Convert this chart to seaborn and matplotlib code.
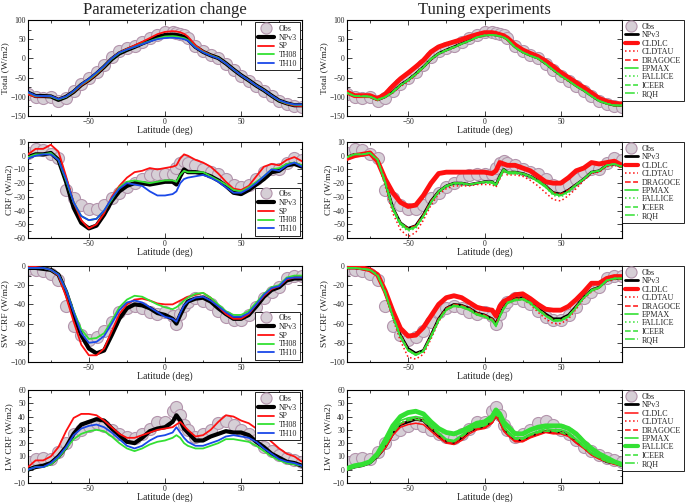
import matplotlib
matplotlib.use('Agg')
import matplotlib.pyplot as plt
from matplotlib.lines import Line2D
from matplotlib.ticker import MultipleLocator
import seaborn as sns

# ---------------- data ----------------
LAT = [-90, -85, -80, -75, -70, -65, -60, -55, -50,
       -45, -40, -35, -30, -25, -20, -15, -10, -5,
       0, 5, 7.5, 10, 12.5, 15,
       20, 25, 30, 35, 40, 45, 50, 55, 60,
       65, 70, 75, 80, 85, 90]

# Total (W/m2)
TOT_OBS = [-92, -100, -102, -100, -110, -102, -86, -66, -52, -35, -17, 3, 18, 26, 33, 42, 52, 62,
           70, 68, 66, 64, 60, 52, 32, 18, 8, 0, -15, -31, -47, -59, -73, -86, -99, -112, -120, -125, -126]
TOT_NPV3 = [-89, -98, -98, -99, -108, -100, -87, -69, -56, -40, -22, -2, 13, 22, 30, 39, 47, 56,
            61, 62, 61, 59, 56, 50, 30, 17, 8, 1, -13, -29, -44, -57, -71, -83, -97, -110, -117, -122, -122]
TOT_SP = [-94, -100, -99, -99, -106, -100, -87, -70, -57, -41, -22, 0, 15, 25, 34, 43, 53, 63,
          69, 71, 70, 68, 64, 57, 34, 19, 9, 1, -13, -29, -44, -57, -71, -83, -97, -110, -118, -123, -124]
TOT_TH08 = [-89, -98, -98, -99, -107, -100, -86, -68, -55, -39, -21, -1, 14, 23, 30, 38, 45, 52,
            57, 58, 57, 55, 53, 48, 29, 17, 8, 1, -13, -29, -44, -57, -71, -83, -97, -110, -117, -121, -121]
TOT_TH10 = [-88, -97, -98, -98, -106, -99, -85, -67, -53, -37, -20, 0, 15, 23, 30, 37, 44, 50,
            53, 54, 53, 52, 50, 46, 28, 16, 7, 0, -13, -29, -44, -57, -71, -83, -97, -109, -116, -120, -120]
TOT_CLDLC = [-88, -97, -97, -97, -105, -93, -72, -53, -38, -22, -5, 17, 30, 37, 43, 49, 56, 62,
             67, 67, 65, 62, 59, 53, 35, 22, 13, 5, -7, -21, -37, -50, -63, -76, -90, -104, -112, -117, -119]
TOT_CLDTAU = [-90, -99, -99, -100, -109, -102, -90, -73, -61, -44, -25, -4, 11, 20, 28, 37, 45, 54,
              59, 60, 59, 57, 54, 48, 28, 15, 6, -1, -16, -32, -48, -60, -73, -85, -98, -111, -118, -123, -123]
TOT_DRAGOCE = [-89, -98, -98, -99, -108, -100, -87, -69, -56, -40, -22, -1, 13, 22, 30, 39, 47, 55,
               60, 61, 60, 58, 55, 49, 29, 16, 7, 0, -14, -30, -45, -58, -72, -84, -98, -111, -118, -123, -123]
TOT_EPMAX = [-90, -98, -99, -100, -108, -101, -88, -70, -57, -41, -23, -2, 12, 21, 29, 38, 46, 55,
             60, 61, 60, 58, 55, 49, 29, 16, 7, 0, -14, -30, -45, -58, -72, -84, -98, -111, -118, -123, -123]
TOT_FALLICE = [-89, -98, -99, -99, -108, -101, -88, -70, -58, -42, -24, -3, 11, 20, 28, 37, 45, 54,
               59, 60, 59, 57, 54, 48, 28, 15, 6, -1, -15, -31, -46, -59, -73, -85, -98, -111, -118, -123, -123]
TOT_ICEER = [-89, -98, -98, -99, -108, -100, -87, -69, -56, -40, -22, -1, 13, 22, 30, 38, 46, 55,
             60, 61, 60, 58, 55, 49, 29, 16, 7, 0, -14, -30, -45, -58, -72, -84, -98, -111, -118, -122, -122]
TOT_RQH = [-90, -98, -98, -99, -108, -100, -87, -70, -57, -41, -23, -1, 12, 21, 29, 38, 46, 55,
           60, 61, 60, 58, 55, 49, 29, 16, 7, 0, -14, -30, -45, -58, -72, -84, -98, -110, -117, -122, -122]

# CRF (W/m2)
CRF_OBS = [2, 5, 4, 1, -2, -25, -31, -36, -39, -39, -36, -31, -27, -23, -20, -17, -14, -13,
           -13, -13, -9, -5, -4, -5, -7, -10, -12, -13, -17, -21, -23, -21, -17, -12, -10, -10, -5, -2, -3]
CRF_NPV3 = [-1, 1, 1, 2, -3, -19, -38, -49, -53, -51, -43, -33, -26, -22, -20, -20, -21, -20,
            -19, -19, -21, -15, -10, -12, -12, -13, -15, -18, -22, -27, -28, -25, -21, -17, -12, -11, -7, -6, -8]
CRF_SP = [1, 5, 5, 8, 3, -15, -34, -47, -53, -50, -42, -30, -22, -16, -12, -11, -9, -10,
          -9, -8, -7, -2, 1, 0, -3, -5, -8, -13, -19, -24, -25, -22, -15, -8, -6, -7, -3, -1, -4]
CRF_TH08 = [-1, 1, 1, 2, -3, -18, -34, -44, -47, -46, -40, -32, -23, -19, -18, -19, -20, -19,
            -18, -18, -19, -14, -11, -12, -12, -12, -15, -18, -21, -25, -26, -23, -19, -15, -10, -9, -6, -5, -7]
CRF_TH10 = [-2, 0, 1, 1, -3, -17, -34, -44, -47, -46, -40, -31, -24, -20, -21, -22, -26, -29,
            -29, -28, -26, -20, -17, -16, -15, -14, -16, -19, -23, -27, -27, -24, -20, -15, -10, -11, -7, -5, -8]
CRF_CLDLC = [-2, 0, 1, 2, -4, -17, -27, -34, -37, -36, -29, -20, -13, -12, -12, -12, -12, -12,
             -12, -13, -11, -5, -6, -7, -7, -9, -11, -15, -19, -20, -20, -16, -11, -9, -5, -6, -5, -4, -7]
CRF_CLDTAU = [-2, 0, 0, 1, -4, -22, -42, -54, -59, -56, -47, -36, -28, -24, -22, -22, -22, -21,
              -21, -21, -23, -17, -12, -14, -14, -15, -18, -22, -27, -32, -33, -29, -24, -18, -13, -12, -8, -7, -9]
CRF_DRAGOCE = [-1, 1, 1, 2, -3, -19, -38, -49, -53, -51, -43, -33, -26, -22, -20, -20, -21, -20,
               -19, -19, -21, -15, -10, -12, -12, -13, -15, -18, -22, -27, -28, -25, -21, -17, -12, -11, -7, -6, -8]
CRF_EPMAX = [-1, 1, 1, 2, -3, -20, -39, -50, -54, -52, -44, -34, -26, -22, -20, -20, -21, -20,
             -19, -19, -21, -15, -10, -12, -12, -13, -15, -19, -23, -28, -29, -26, -21, -17, -12, -11, -7, -6, -8]
CRF_FALLICE = [-1, 1, 1, 2, -3, -19, -39, -51, -55, -53, -45, -34, -27, -23, -21, -21, -21, -20,
               -20, -20, -22, -16, -11, -13, -13, -14, -16, -19, -23, -29, -30, -27, -22, -17, -12, -11, -7, -6, -8]
CRF_ICEER = [-1, 1, 1, 2, -3, -19, -38, -50, -54, -52, -44, -34, -26, -22, -20, -20, -21, -20,
             -19, -19, -21, -15, -10, -12, -12, -13, -15, -18, -22, -27, -29, -26, -21, -17, -12, -11, -7, -6, -8]
CRF_RQH = [-1, 1, 1, 2, -3, -19, -38, -49, -53, -52, -44, -34, -26, -22, -20, -20, -21, -20,
           -19, -20, -22, -16, -11, -13, -13, -13, -15, -18, -22, -28, -29, -26, -21, -17, -12, -11, -7, -6, -8]

# SW CRF (W/m2)
SW_OBS = [-3, -4, -5, -8, -15, -42, -62, -72, -77, -74, -68, -58, -48, -44, -42, -44, -48, -50,
          -48, -52, -60, -50, -42, -37, -33, -36, -40, -47, -53, -56, -56, -51, -43, -33, -27, -22, -12, -10, -10]
SW_NPV3 = [-2, -2, -3, -4, -9, -27, -51, -72, -86, -91, -88, -72, -55, -44, -40, -41, -44, -49,
           -51, -55, -60, -51, -43, -37, -34, -33, -37, -44, -50, -55, -55, -51, -42, -32, -25, -22, -15, -13, -13]
SW_SP = [-1, -1, -2, -4, -10, -32, -58, -82, -93, -93, -86, -68, -50, -40, -35, -34, -36, -39,
         -40, -40, -38, -36, -34, -32, -30, -28, -33, -42, -50, -55, -55, -50, -40, -31, -24, -21, -14, -12, -12]
SW_TH08 = [-2, -2, -2, -4, -9, -25, -47, -66, -76, -75, -70, -57, -43, -35, -31, -32, -36, -40,
           -43, -45, -43, -40, -36, -33, -29, -28, -33, -40, -47, -51, -51, -47, -38, -29, -22, -20, -12, -10, -10]
SW_TH10 = [-2, -2, -2, -4, -9, -25, -48, -70, -80, -79, -73, -60, -46, -38, -36, -38, -43, -48,
           -53, -55, -58, -49, -41, -37, -33, -32, -36, -42, -48, -53, -53, -49, -40, -30, -23, -21, -13, -12, -12]
SW_CLDLC = [-1, -1, -2, -4, -9, -26, -47, -65, -73, -72, -64, -52, -40, -33, -31, -33, -38, -43,
            -45, -46, -52, -42, -37, -35, -30, -29, -34, -40, -45, -46, -46, -42, -35, -27, -18, -18, -13, -11, -11]
SW_CLDTAU = [-2, -2, -3, -5, -10, -29, -55, -78, -95, -97, -92, -76, -58, -46, -42, -43, -46, -51,
             -53, -57, -62, -53, -45, -39, -36, -35, -40, -48, -55, -60, -60, -55, -45, -34, -27, -23, -16, -14, -14]
SW_DRAGOCE = [-2, -2, -3, -4, -9, -27, -51, -72, -87, -92, -88, -72, -55, -44, -40, -41, -44, -49,
              -51, -55, -60, -51, -43, -37, -34, -33, -37, -44, -51, -56, -56, -52, -42, -32, -25, -22, -15, -13, -13]
SW_EPMAX = [-2, -2, -3, -4, -10, -28, -53, -74, -88, -93, -89, -74, -57, -46, -42, -43, -46, -51,
            -53, -57, -63, -53, -45, -39, -36, -35, -39, -46, -52, -57, -57, -53, -43, -33, -26, -23, -15, -13, -13]
SW_FALLICE = [-2, -2, -3, -4, -10, -28, -52, -73, -88, -93, -89, -73, -56, -45, -41, -42, -45, -50,
              -52, -56, -62, -52, -44, -38, -35, -34, -38, -45, -52, -57, -57, -52, -43, -33, -26, -22, -15, -13, -13]
SW_ICEER = [-2, -2, -3, -4, -9, -27, -52, -73, -88, -92, -89, -73, -56, -45, -41, -42, -45, -50,
            -52, -56, -62, -52, -44, -38, -35, -34, -38, -45, -51, -56, -56, -52, -43, -33, -25, -22, -15, -13, -13]
SW_RQH = [-2, -2, -3, -4, -9, -27, -52, -73, -87, -92, -88, -73, -56, -45, -41, -42, -45, -50,
          -52, -56, -61, -52, -44, -38, -35, -34, -38, -45, -51, -57, -57, -52, -43, -33, -25, -22, -15, -13, -13]

# LW CRF (W/m2)
LW_OBS = [6, 8, 9, 8, 13, 20, 27, 30, 33, 35, 33, 30, 27, 25, 24, 27, 31, 36,
          36, 44, 47, 41, 34, 30, 25, 27, 30, 35, 37, 34, 30, 27, 22, 17, 14, 11, 9, 7, 6]
LW_NPV3 = [0, 2, 3, 5, 10, 17, 27, 34, 36, 38, 37, 31, 26, 21, 20, 24, 29, 31,
           32, 36, 41, 37, 31, 28, 22, 22, 25, 27, 29, 28, 28, 26, 21, 17, 12, 9, 6, 5, 3]
LW_SP = [2, 7, 7, 10, 17, 29, 39, 42, 42, 41, 37, 32, 27, 24, 24, 26, 28, 30,
         31, 32, 34, 36, 33, 30, 25, 26, 30, 36, 41, 40, 37, 35, 31, 26, 21, 16, 12, 10, 6]
LW_TH08 = [0, 2, 2, 4, 9, 16, 23, 27, 29, 30, 29, 25, 20, 16, 14, 16, 19, 21,
           22, 24, 26, 24, 20, 18, 16, 16, 18, 20, 23, 23, 22, 21, 18, 14, 10, 7, 5, 4, 3]
LW_TH10 = [0, 2, 2, 5, 10, 17, 26, 31, 33, 34, 32, 28, 23, 18, 16, 18, 22, 25,
           26, 28, 32, 28, 24, 21, 18, 18, 20, 22, 25, 26, 25, 24, 21, 16, 12, 8, 6, 5, 3]
LW_CLDLC = [0, 2, 3, 5, 10, 16, 26, 32, 34, 35, 34, 29, 24, 20, 19, 22, 27, 30,
            31, 35, 40, 36, 29, 26, 21, 21, 24, 26, 28, 27, 27, 25, 20, 16, 11, 8, 6, 4, 3]
LW_CLDTAU = [0, 2, 3, 5, 10, 17, 28, 35, 38, 39, 38, 32, 27, 22, 21, 25, 30, 32,
             33, 37, 42, 38, 32, 29, 23, 23, 26, 28, 30, 29, 29, 27, 22, 17, 12, 9, 6, 5, 3]
LW_DRAGOCE = [0, 2, 3, 5, 10, 17, 27, 34, 37, 38, 37, 31, 26, 21, 20, 24, 29, 31,
              32, 36, 41, 37, 31, 28, 22, 22, 25, 27, 29, 28, 28, 26, 21, 17, 12, 9, 6, 5, 3]
LW_EPMAX = [0, 2, 3, 6, 11, 19, 30, 37, 39, 40, 39, 33, 28, 23, 22, 26, 30, 33,
            34, 38, 43, 39, 33, 29, 24, 24, 27, 29, 31, 30, 30, 28, 23, 18, 13, 10, 7, 5, 3]
LW_FALLICE = [1, 3, 4, 6, 12, 22, 33, 40, 43, 44, 42, 36, 31, 28, 27, 29, 32, 35,
              36, 40, 45, 42, 36, 33, 27, 27, 30, 32, 33, 33, 33, 31, 27, 21, 16, 12, 9, 6, 4]
LW_ICEER = [0, 2, 3, 5, 10, 18, 28, 35, 37, 38, 37, 32, 27, 22, 21, 25, 29, 32,
            33, 37, 42, 38, 32, 28, 23, 23, 26, 28, 29, 29, 28, 26, 22, 17, 12, 9, 6, 5, 3]
LW_RQH = [0, 2, 3, 5, 10, 18, 28, 35, 38, 39, 37, 32, 27, 22, 21, 25, 30, 32,
          33, 37, 42, 38, 32, 28, 23, 23, 26, 28, 30, 29, 29, 27, 22, 17, 12, 9, 6, 5, 3]

YLABELS = ["Total (W/m2)", "CRF (W/m2)", "SW CRF (W/m2)", "LW CRF (W/m2)"]
XLABEL = "Latitude (deg)"
TITLES = ["Parameterization change", "Tuning experiments"]
PARAM_NAMES = ["NPv3", "SP", "TH08", "TH10"]
TUNE_NAMES = ["NPv3", "CLDLC", "CLDTAU", "DRAGOCE", "EPMAX", "FALLICE", "ICEER", "RQH"]

ROWS = [
    dict(obs=TOT_OBS, left=[TOT_NPV3, TOT_SP, TOT_TH08, TOT_TH10],
         right=[TOT_NPV3, TOT_CLDLC, TOT_CLDTAU, TOT_DRAGOCE, TOT_EPMAX, TOT_FALLICE, TOT_ICEER, TOT_RQH]),
    dict(obs=CRF_OBS, left=[CRF_NPV3, CRF_SP, CRF_TH08, CRF_TH10],
         right=[CRF_NPV3, CRF_CLDLC, CRF_CLDTAU, CRF_DRAGOCE, CRF_EPMAX, CRF_FALLICE, CRF_ICEER, CRF_RQH]),
    dict(obs=SW_OBS, left=[SW_NPV3, SW_SP, SW_TH08, SW_TH10],
         right=[SW_NPV3, SW_CLDLC, SW_CLDTAU, SW_DRAGOCE, SW_EPMAX, SW_FALLICE, SW_ICEER, SW_RQH]),
    dict(obs=LW_OBS, left=[LW_NPV3, LW_SP, LW_TH08, LW_TH10],
         right=[LW_NPV3, LW_CLDLC, LW_CLDTAU, LW_DRAGOCE, LW_EPMAX, LW_FALLICE, LW_ICEER, LW_RQH]),
]

# ---------------- style ----------------
sns.set_style('ticks')
plt.rcParams['font.family'] = ['Liberation Serif', 'DejaVu Serif']

RED = '#ff1010'
GREEN = '#33e033'
BLUE = '#1a48e8'
OBS_FACE = '#d6cfd6'
OBS_EDGE = '#b394ac'

YLIM = [(-150, 100), (-60, 10), (-100, 0), (-10, 60)]
YMAJ = [50, 10, 20, 10]
YMIN = [25, 5, 10, 5]
LEFT_LOC = ['upper right', 'lower right', 'lower right', 'upper right']
ROW_PX = [(20, 116), (142, 238), (266, 362), (390, 483)]
COL_PX = [(28, 302), (347, 622)]

W, H = 685, 503
fig = plt.figure(figsize=(W / 100, H / 100), dpi=100)


def add_ax(xp, yp):
    return fig.add_axes([xp[0] / W, 1 - yp[1] / H, (xp[1] - xp[0]) / W, (yp[1] - yp[0]) / H])


def style_ax(ax, r):
    ax.set_xlim(-90, 90)
    ax.set_ylim(*YLIM[r])
    ax.set_xticks([-50, 0, 50])
    ax.xaxis.set_minor_locator(MultipleLocator(25))
    ax.yaxis.set_major_locator(MultipleLocator(YMAJ[r]))
    ax.yaxis.set_minor_locator(MultipleLocator(YMIN[r]))
    ax.tick_params(which='both', direction='in', top=True, right=True, labelsize=5.5,
                   width=0.6)
    ax.tick_params(axis='x', pad=1.2)
    ax.tick_params(axis='y', pad=1.5)
    ax.tick_params(which='major', length=3.5)
    ax.tick_params(which='minor', length=1.8)
    for s in ax.spines.values():
        s.set_linewidth(0.8)
        s.set_color('black')
    ax.set_xlabel(XLABEL, fontsize=7, labelpad=-0.5)
    ax.set_ylabel(YLABELS[r], fontsize=6.8, labelpad=0.5)


def obs_handle():
    return Line2D([], [], marker='o', linestyle='none', markersize=8,
                  markerfacecolor=OBS_FACE, markeredgecolor=OBS_EDGE, markeredgewidth=0.8)


for r, row in enumerate(ROWS):
    # ---- left column ----
    ax = add_ax(COL_PX[0], ROW_PX[r])
    sns.scatterplot(x=LAT, y=row['obs'], ax=ax, s=75, color=OBS_FACE, edgecolor=OBS_EDGE,
                    linewidth=0.8, zorder=1, legend=False)
    lstyles = [('black', 3.0), (RED, 1.3), (GREEN, 1.3), (BLUE, 1.3)]
    handles = [obs_handle()]
    for vals, name, (c, lw) in zip(row['left'], PARAM_NAMES, lstyles):
        sns.lineplot(x=LAT, y=vals, ax=ax, color=c, linewidth=lw, zorder=3, legend=False)
        handles.append(Line2D([], [], color=c, linewidth=lw if lw < 2 else 3.0))
    style_ax(ax, r)
    ax.legend(handles, ['Obs'] + PARAM_NAMES, loc=LEFT_LOC[r], fontsize=5.8, frameon=True,
              fancybox=False, edgecolor='black', framealpha=1, borderaxespad=0.3,
              labelspacing=0.1, handlelength=2.0, handletextpad=0.6, borderpad=0.3)
    ax.get_legend().get_frame().set_linewidth(0.6)
    if r == 0:
        ax.set_title(TITLES[0], fontsize=12, pad=4)

    # ---- right column ----
    ax = add_ax(COL_PX[1], ROW_PX[r])
    sns.scatterplot(x=LAT, y=row['obs'], ax=ax, s=75, color=OBS_FACE, edgecolor=OBS_EDGE,
                    linewidth=0.8, zorder=1, legend=False)
    if r < 3:
        rstyles = [('black', 2.0, '-'), (RED, 3.5, '-'), (RED, 1.1, ':'), (RED, 1.1, '--'),
                   (GREEN, 1.2, '-'), (GREEN, 1.1, ':'), (GREEN, 1.1, '--'), (GREEN, 1.1, '-.')]
    else:
        rstyles = [('black', 2.0, '-'), (RED, 1.1, '-'), (RED, 1.1, ':'), (RED, 1.1, '--'),
                   (GREEN, 1.2, '-'), (GREEN, 3.5, '-'), (GREEN, 1.1, '--'), (GREEN, 1.1, '-.')]
    handles = [obs_handle()]
    for vals, name, (c, lw, ls) in zip(row['right'], TUNE_NAMES, rstyles):
        sns.lineplot(x=LAT, y=vals, ax=ax, color=c, linewidth=lw, linestyle=ls, zorder=3,
                     legend=False)
        handles.append(Line2D([], [], color=c, linewidth=3.0 if lw > 2 else max(lw, 1.0),
                              linestyle=ls))
    style_ax(ax, r)
    ax.legend(handles, ['Obs'] + TUNE_NAMES, loc='upper left', bbox_to_anchor=(1.0, 1.0),
              fontsize=5.9, frameon=True, fancybox=False, edgecolor='black', framealpha=1,
              borderaxespad=0.0, labelspacing=0.05, handlelength=1.6, handletextpad=0.5,
              borderpad=0.35)
    ax.get_legend().get_frame().set_linewidth(0.6)
    if r == 0:
        ax.set_title(TITLES[1], fontsize=12, pad=4)

fig.savefig('out.png', dpi=100)
